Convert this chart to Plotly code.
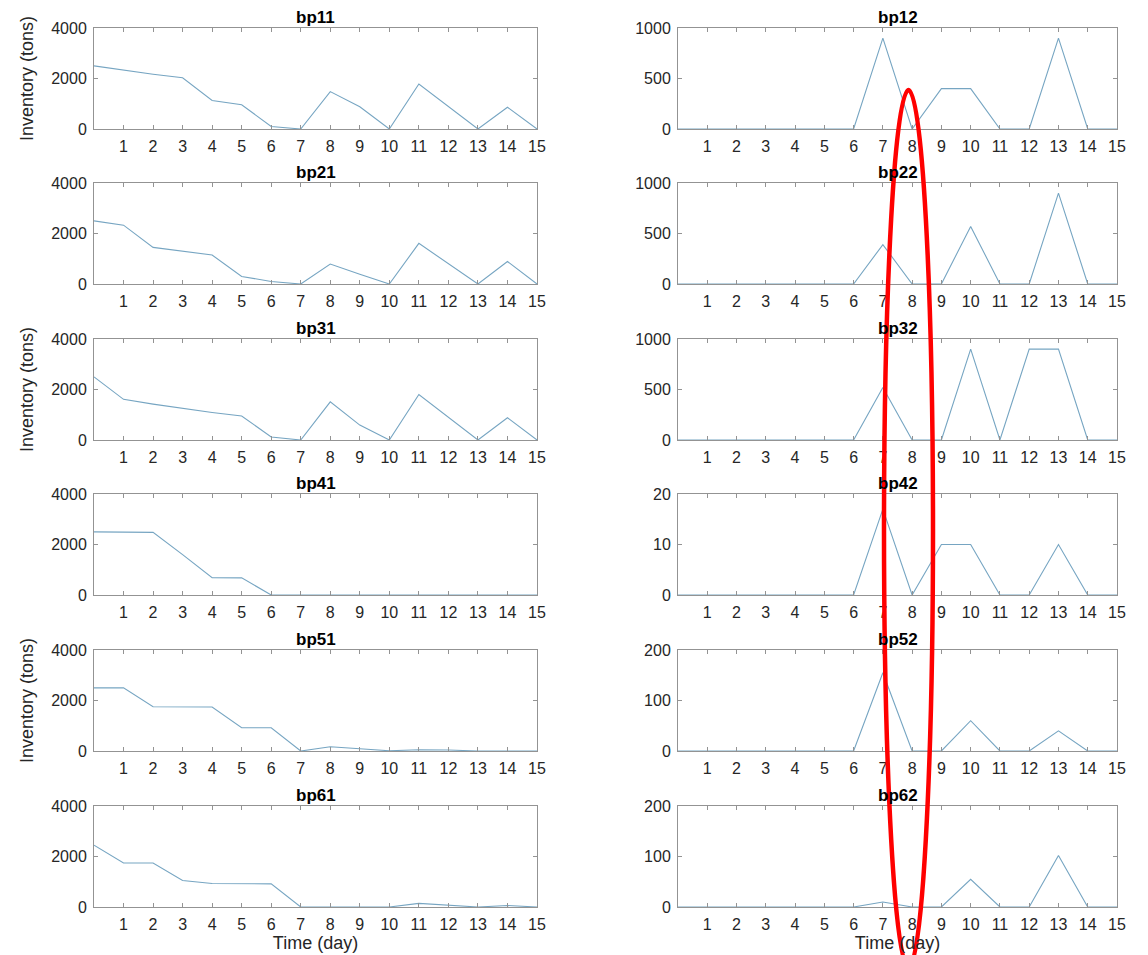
import plotly.graph_objects as go

days = list(range(16))

bp11 = [2500, 2330, 2170, 2030, 1130, 960, 100, 0, 1480, 880, 0, 1780, 890, 0, 860, 0]
bp12 = [0, 0, 0, 0, 0, 0, 0, 900, 0, 400, 400, 0, 0, 900, 0, 0]
bp21 = [2500, 2330, 1450, 1300, 1150, 300, 100, 0, 790, 390, 0, 1610, 800, 0, 890, 0]
bp22 = [0, 0, 0, 0, 0, 0, 0, 390, 0, 0, 570, 0, 0, 900, 0, 0]
bp31 = [2500, 1610, 1420, 1250, 1090, 950, 120, 0, 1510, 590, 0, 1800, 900, 0, 880, 0]
bp32 = [0, 0, 0, 0, 0, 0, 0, 520, 0, 0, 900, 0, 900, 900, 0, 0]
bp41 = [2500, 2500, 2480, 1600, 690, 680, 0, 0, 0, 0, 0, 0, 0, 0, 0, 0]
bp42 = [0, 0, 0, 0, 0, 0, 0, 17, 0, 10, 10, 0, 0, 10, 0, 0]
bp51 = [2500, 2500, 1750, 1750, 1740, 920, 920, 0, 170, 90, 10, 50, 40, 0, 0, 0]
bp52 = [0, 0, 0, 0, 0, 0, 0, 155, 0, 0, 60, 0, 0, 40, 0, 0]
bp61 = [2450, 1740, 1740, 1050, 930, 930, 915, 0, 0, 0, 0, 145, 60, 0, 60, 0]
bp62 = [0, 0, 0, 0, 0, 0, 0, 10, 0, 0, 55, 0, 0, 102, 0, 0]

panels = [
    ("bp11", bp11, [0, 2000, 4000]), ("bp12", bp12, [0, 500, 1000]),
    ("bp21", bp21, [0, 2000, 4000]), ("bp22", bp22, [0, 500, 1000]),
    ("bp31", bp31, [0, 2000, 4000]), ("bp32", bp32, [0, 500, 1000]),
    ("bp41", bp41, [0, 2000, 4000]), ("bp42", bp42, [0, 10, 20]),
    ("bp51", bp51, [0, 2000, 4000]), ("bp52", bp52, [0, 100, 200]),
    ("bp61", bp61, [0, 2000, 4000]), ("bp62", bp62, [0, 100, 200]),
]
xticks = list(range(1, 16))

# page body has an 8px margin; layout is specified in screen pixels
OFF = 8
W, H = 1148 - OFF, 955 - OFF


def px(sx):
    return (sx - OFF) / W


def py(sy):
    return 1 - (sy - OFF) / H


col_x = [(94, 537), (678, 1117)]
row_tops = [28, 183, 339, 494, 650, 806]
row_h = 101

FONT = "Liberation Sans, Arial, sans-serif"
LINE = "#76a5c2"
FRAME = "#939393"
TXT = "#262626"

fig = go.Figure()
layout = dict(
    width=W, height=H,
    margin=dict(l=0, r=0, t=0, b=0, pad=0, autoexpand=False),
    paper_bgcolor="white", plot_bgcolor="white",
    showlegend=False,
    font=dict(family=FONT, size=16, color=TXT),
)
annotations = []

for i, (name, vals, yt) in enumerate(panels):
    r, c = divmod(i, 2)
    n = i + 1
    xa = "xaxis" if n == 1 else f"xaxis{n}"
    ya = "yaxis" if n == 1 else f"yaxis{n}"
    xr = "x" if n == 1 else f"x{n}"
    yr = "y" if n == 1 else f"y{n}"
    x0p, x1p = col_x[c]
    top = row_tops[r]
    bot = top + row_h
    fig.add_trace(go.Scatter(x=days, y=vals, mode="lines",
                             line=dict(color=LINE, width=1.1),
                             xaxis=xr, yaxis=yr, name=name))
    layout[xa] = dict(
        domain=[px(x0p), px(x1p)], anchor=yr, range=[0, 15],
        tickvals=xticks, ticks="inside", ticklen=4, tickcolor=FRAME,
        showline=True, linecolor=FRAME, linewidth=1, mirror="ticks",
        showgrid=False, zeroline=False, tickfont=dict(size=16, color=TXT),
        ticklabelstandoff=3, automargin=False,
    )
    layout[ya] = dict(
        domain=[py(bot), py(top)], anchor=xr, range=[yt[0], yt[-1]],
        tickvals=yt, ticks="inside", ticklen=4, tickcolor=FRAME,
        showline=True, linecolor=FRAME, linewidth=1, mirror="ticks",
        showgrid=False, zeroline=False, tickfont=dict(size=16, color=TXT),
        ticklabelstandoff=3, automargin=False,
    )
    if c == 0 and r in (0, 2, 4):
        layout[ya]["title"] = dict(text="Inventory (tons)", standoff=12,
                                   font=dict(size=18, color=TXT))
    if r == 5:
        layout[xa]["title"] = dict(text="Time (day)", standoff=1,
                                   font=dict(size=18, color=TXT))
    annotations.append(dict(
        text=f"<b>{name}</b>", xref="paper", yref="paper",
        x=(px(x0p) + px(x1p)) / 2, y=py(top - 11),
        xanchor="center", yanchor="middle", showarrow=False,
        font=dict(size=17, color="black", family=FONT),
    ))

layout["annotations"] = annotations
layout["shapes"] = [dict(
    type="circle", xref="paper", yref="paper",
    x0=px(884), x1=px(933), y0=py(968), y1=py(90),
    line=dict(color="#ff0000", width=4.5), fillcolor="rgba(0,0,0,0)",
    layer="above",
)]
fig.update_layout(**layout)
fig.write_html("out.html")
